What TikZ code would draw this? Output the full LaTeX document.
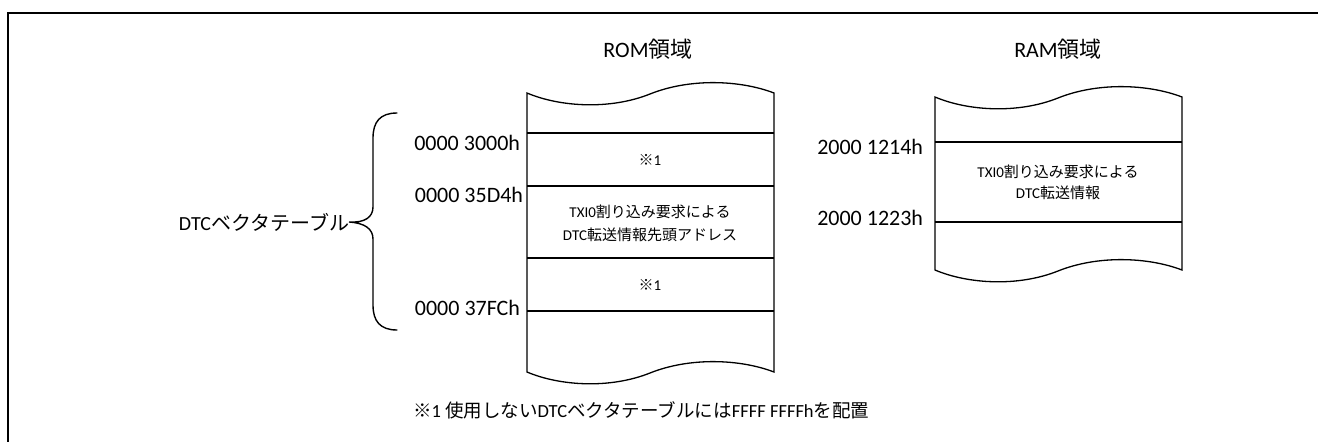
\documentclass[tikz,border=0pt]{standalone}
\usepackage{fontspec}
\setmainfont{Carlito}
\newfontfamily\jp{Noto Sans CJK JP}
\begin{document}
\begin{tikzpicture}[x=1pt,y=-1pt,
  every node/.style={inner sep=0pt,outer sep=0pt},
  frameline/.style={line width=2pt},
  memline/.style={line width=1.3pt,line join=miter},
  braceline/.style={line width=1.4pt,line cap=round},
  header/.style={font=\fontsize{22}{26}\selectfont},
  addr/.style={font=\fontsize{22}{26}\selectfont,anchor=base east},
  cell/.style={font=\fontsize{15}{23}\selectfont,align=center},
  tbl/.style={font=\fontsize{20}{24}\selectfont,anchor=east},
  note/.style={font=\fontsize{18.5}{22}\selectfont,anchor=west}]
\useasboundingbox (0,0) rectangle (1318,442);
% outer frame
\draw[frameline] (8,442) -- (8,13) -- (1318,13);
% headers
\node[header,anchor=base] (romh) at (648,57) {ROM{\jp 領域}};
\node[header,anchor=base] (ramh) at (1058,57) {RAM{\jp 領域}};
% ROM area
\draw[memline] (527,93) .. controls (560,107) and (610,110) .. (650,94)
  .. controls (690,78) and (740,80) .. (774,93) -- (774,372)
  .. controls (740,359) and (690,357) .. (650,373)
  .. controls (610,389) and (560,386) .. (527,372) -- cycle;
\foreach \yy in {133,186,258,311}
  \draw[memline] (527,\yy) -- (774,\yy);
\node[cell] (rom1) at (650,160) {{\jp ※}1};
\node[cell] (rom2) at (650,223) {TXI0{\jp 割り込み要求による}\\DTC{\jp 転送情報先頭アドレス}};
\node[cell] (rom3) at (650,285) {{\jp ※}1};
% ROM addresses
\node[addr] (a1) at (520,150) {0000 3000h};
\node[addr] (a2) at (523,202) {0000 35D4h};
\node[addr] (a3) at (520,315) {0000 37FCh};
% RAM area
\draw[memline] (935,97) .. controls (968,111) and (1018,114) .. (1058,98)
  .. controls (1098,82) and (1148,84) .. (1182,97) -- (1182,270)
  .. controls (1148,257) and (1098,255) .. (1058,271)
  .. controls (1018,287) and (968,284) .. (935,270) -- cycle;
\foreach \yy in {142,222}
  \draw[memline] (935,\yy) -- (1182,\yy);
\node[cell,font=\fontsize{15}{21}\selectfont] (ram1) at (1058,182) {TXI0{\jp 割り込み要求による}\\DTC{\jp 転送情報}};
% RAM addresses
\node[addr] (b1) at (923,154) {2000 1214h};
\node[addr] (b2) at (923,225) {2000 1223h};
% brace and label
\node[tbl] (dtc) at (349,222) {DTC{\jp ベクタテーブル}};
\coordinate (btop) at (397,113);
\coordinate (bbot) at (397,330);
\draw[braceline] (btop) .. controls (380,113) and (373,122) .. (373,138)
  -- (373,207) .. controls (373,217) and (365,223) .. (dtc.east)
  .. controls (365,223) and (373,229) .. (373,239)
  -- (373,305) .. controls (373,321) and (380,330) .. (bbot);
% footnote
\node[note] (fn) at (413,410) {{\jp ※}1 {\jp 使用しない}DTC{\jp ベクタテーブルには}FFFF FFFFh{\jp を配置}};
\end{tikzpicture}
\end{document}
